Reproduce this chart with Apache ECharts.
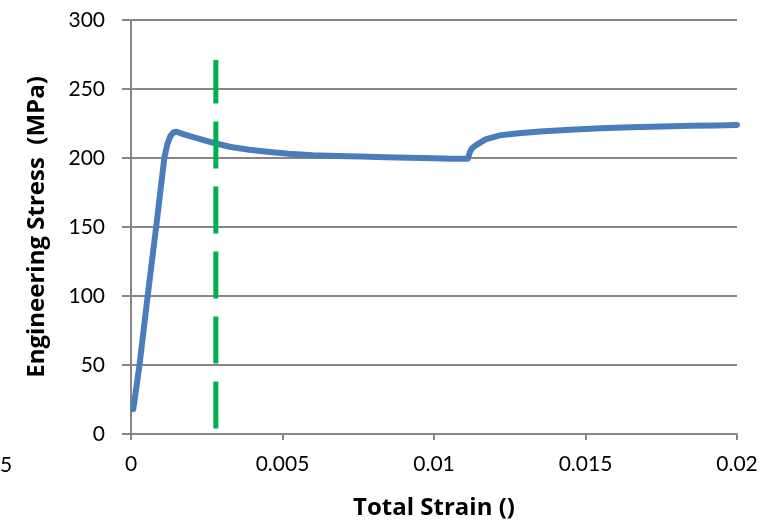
<!DOCTYPE html>
<html>
<head>
<meta charset="utf-8">
<script src="https://cdn.jsdelivr.net/npm/echarts@6/dist/echarts.min.js"></script>
<style>
  html, body { margin: 0; padding: 0; background: #fff; }
  #chart { width: 778px; height: 530px; }
</style>
</head>
<body>
<div id="chart"></div>
<script>
const strain = [0.000076, 0.00028, 0.00055, 0.00083, 0.0011, 0.0012, 0.0013, 0.0014, 0.0015,
  0.0017, 0.002, 0.0024, 0.0028, 0.0033, 0.0039, 0.0045, 0.0052, 0.006, 0.0068, 0.0076,
  0.0084, 0.0092, 0.01, 0.0106, 0.01112, 0.01118, 0.01125, 0.0114, 0.0117, 0.0122, 0.0128,
  0.0135, 0.0145, 0.0155, 0.0165, 0.0175, 0.0185, 0.0193, 0.02];
const stress = [18, 50, 100, 150, 200, 210, 216, 218.5, 219,
  217.5, 215.5, 213, 210.5, 208, 206, 204.5, 203, 202, 201.5, 201,
  200.5, 200.2, 199.8, 199.5, 199.5, 204, 207, 209.5, 213.5, 216.5, 218,
  219.2, 220.5, 221.5, 222.2, 222.8, 223.3, 223.6, 224];

const markerStrain = [0.0028, 0.0028];
const markerStress = [4, 271];

const xTicks = [0, 0.005, 0.01, 0.015, 0.02];
const yTicks = [0, 50, 100, 150, 200, 250, 300];

const font = "Lato, 'Open Sans', sans-serif";
const titleFont = "'Open Sans', sans-serif";
const gridColor = "#868686";

const chart = echarts.init(document.querySelector("#chart"));

chart.setOption({
  animation: false,
  grid: { left: 131, top: 20, right: 41, bottom: 96 },
  xAxis: {
    type: "value",
    min: xTicks[0],
    max: xTicks[xTicks.length - 1],
    interval: 0.005,
    name: "Total Strain ()",
    nameLocation: "middle",
    nameGap: 62,
    nameTextStyle: { fontFamily: titleFont, fontWeight: "bold", fontSize: 24, color: "#000" },
    axisLine: { lineStyle: { color: gridColor, width: 2 } },
    axisTick: { show: true, length: 6, lineStyle: { color: gridColor, width: 2 } },
    axisLabel: { fontFamily: font, fontSize: 21, color: "#000", margin: 20,
      formatter: v => String(+v.toFixed(3)) },
    splitLine: { show: false }
  },
  yAxis: {
    type: "value",
    min: yTicks[0],
    max: yTicks[yTicks.length - 1],
    interval: 50,
    name: "Engineering Stress  (MPa)",
    nameLocation: "middle",
    nameGap: 82,
    nameTextStyle: { fontFamily: titleFont, fontWeight: "bold", fontSize: 24, color: "#000" },
    axisLine: { show: true, lineStyle: { color: gridColor, width: 2 } },
    axisTick: { show: true, length: 9, lineStyle: { color: gridColor, width: 2 } },
    axisLabel: { fontFamily: font, fontSize: 21, color: "#000", margin: 26 },
    splitLine: { show: true, lineStyle: { color: gridColor, width: 2 } }
  },
  graphic: [
    { type: "text", left: 0, top: 455, style: { text: "5", fontFamily: font, fontSize: 21, fill: "#000" } }
  ],
  series: [
    {
      type: "line",
      data: strain.map((s, i) => [s, stress[i]]),
      showSymbol: false,
      lineStyle: { color: "#4A7EBB", width: 6, cap: "round", join: "round" },
      z: 3
    },
    {
      type: "line",
      data: markerStrain.map((s, i) => [s, markerStress[i]]),
      showSymbol: false,
      lineStyle: { color: "#00B050", width: 5, type: [47, 18] },
      z: 4
    }
  ]
});
</script>
</body>
</html>
